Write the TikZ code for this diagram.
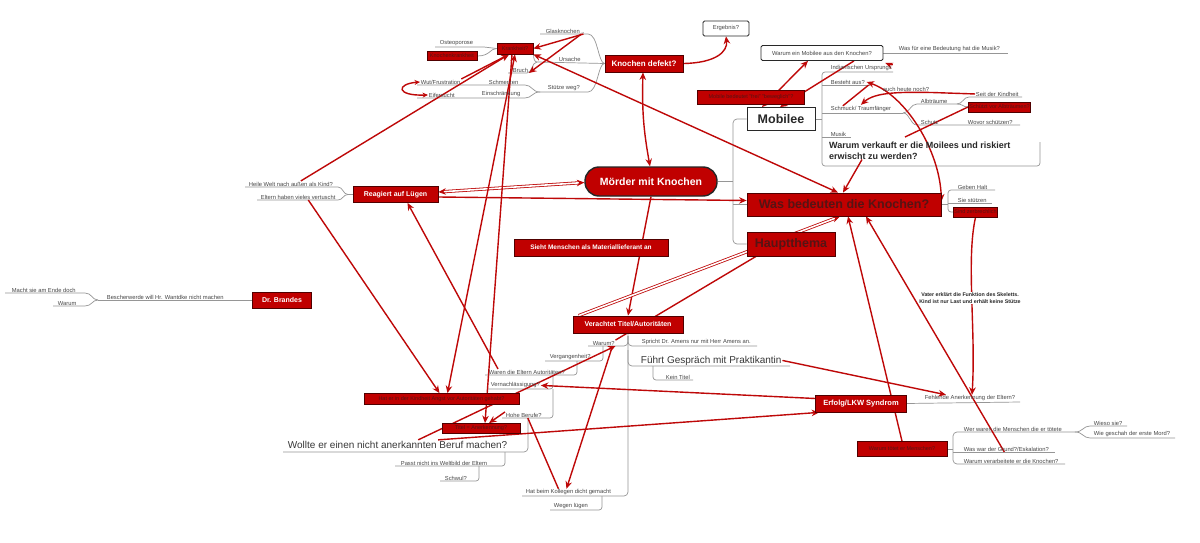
\documentclass[tikz,border=0pt]{standalone}
\usepackage{fontspec}
\setmainfont{Liberation Sans}
\usetikzlibrary{arrows.meta,calc}
\pgfdeclarelayer{background}
\pgfsetlayers{background,main}
\definecolor{rfill}{RGB}{192,0,0}
\definecolor{rdark}{RGB}{80,0,0}
\definecolor{tdark}{RGB}{85,20,20}
\definecolor{rlc}{RGB}{190,8,8}
\definecolor{glc}{RGB}{150,150,150}
\definecolor{ltxt}{RGB}{70,70,70}
\definecolor{bdark}{RGB}{40,40,40}
\tikzset{
  rb/.style={draw=rdark, fill=rfill, line width=0.8pt, inner sep=1pt, align=center},
  rbw/.style={rb, text=white, font=\fontsize{7}{8}\selectfont\bfseries},
  rbd/.style={rb, text=tdark, font=\fontsize{5.5}{6}\selectfont},
  wb/.style={draw=bdark, fill=white, line width=0.8pt, rounded corners=1.5pt, inner sep=1pt, text=ltxt},
  lbl/.style={anchor=south west, inner sep=0.7pt, font=\fontsize{5.8}{6.5}\selectfont, text=ltxt},
  big/.style={anchor=south west, inner sep=0.7pt, font=\fontsize{10}{11}\selectfont, text=ltxt!80!black},
  gline/.style={draw=glc, line width=0.7pt},
  rtip/.tip={Stealth[length=7.5pt,width=6.5pt]},
  rline/.style={draw=rlc, line width=1.4pt, -rtip},
  rboth/.style={draw=rlc, line width=1.4pt, rtip-rtip},
  rplain/.style={draw=rlc, line width=1.4pt},
  rdouble/.style={draw=rlc, line width=0.8pt, double=white, double distance=1.6pt}
}
\begin{document}
\begin{tikzpicture}[x=1pt,y=-1pt]
\useasboundingbox (0,0) rectangle (1200,543);
\begin{pgfonlayer}{background}
\fill[white] (0,0) rectangle (1200,543);
\end{pgfonlayer}

% ---------- main nodes ----------
\node[rbw, minimum width=78pt, minimum height=17pt, font=\fontsize{8}{9}\selectfont\bfseries] (defekt) at (644,63.5) {Knochen defekt?};
\node[wb, minimum width=46pt, minimum height=15pt, font=\fontsize{5.8}{6}\selectfont] (ergebnis) at (726,28.5) {Ergebnis?};
\node[wb, minimum width=122pt, minimum height=15pt, font=\fontsize{5.8}{6}\selectfont] (warummob) at (822,53) {Warum ein Mobilee aus den Knochen?};
\node[rbd, minimum width=107pt, minimum height=14pt] (mobbed) at (751,97) {Mobile bedeutet "frei" "beweglich"?};
\node[wb, rounded corners=0pt, minimum width=68pt, minimum height=23pt, font=\fontsize{12.5}{13}\selectfont\bfseries, text=bdark] (mobilee) at (781,119) {Mobilee};
\node[rb, minimum width=194pt, minimum height=23pt, text=tdark, font=\fontsize{12.5}{13}\selectfont\bfseries] (wasbed) at (844,204.5) {Was bedeuten die Knochen?};
\node[rb, minimum width=88pt, minimum height=24pt, text=tdark, font=\fontsize{12.5}{13}\selectfont\bfseries] (haupt) at (791,244) {Hauptthema};
\node[rbw, rounded corners=14pt, minimum width=132pt, minimum height=29pt, line width=1.4pt, draw=black!85, font=\fontsize{10.5}{11}\selectfont\bfseries] (moerder) at (651,181.5) {Mörder mit Knochen};
\node[rbw, minimum width=85pt, minimum height=16pt] (reagiert) at (395.5,194.5) {Reagiert auf Lügen};
\node[rbw, minimum width=59pt, minimum height=16pt] (brandes) at (282,300) {Dr. Brandes};
\node[rbw, minimum width=154pt, minimum height=17pt, font=\fontsize{6.5}{7}\selectfont\bfseries] (sieht) at (591,247.5) {Sieht Menschen als Materiallieferant an};
\node[rbw, minimum width=110pt, minimum height=17pt] (verachtet) at (628,324.5) {Verachtet Titel/Autoritäten};
\node[rbw, minimum width=91pt, minimum height=17pt, font=\fontsize{7.5}{8}\selectfont\bfseries] (erfolg) at (861,403.5) {Erfolg/LKW Syndrom};
\node[rbd, minimum width=90pt, minimum height=15pt] (toetet) at (902,449) {Warum tötet er Menschen?};
\node[rbd, minimum width=36pt, minimum height=11pt] (krank) at (515,48.5) {Krankheit?};
\node[rbd, minimum width=50pt, minimum height=9pt] (knochkr) at (452,56) {Knochenkrankheit};
\node[rbd, minimum height=10pt, anchor=west] (schuetzt) at (968,107) {Schützt vor Albträumen?};
\node[rbd, minimum height=10pt, anchor=west] (zerbr) at (953,212) {Sind zerbrechlich};
\node[rbd, minimum width=155pt, minimum height=11pt] (rboxa) at (441.5,399) {Hat er in der Kindheit Angst vor Autoritäten gehabt?};
\node[rbd, minimum width=78pt, minimum height=10pt] (rboxb) at (481,428.5) {Titel = Anerkennung?};

% ---------- labels ----------
\node[lbl] (glas) at (545,34) {Glasknochen ..};
\node[lbl] (ursache) at (558,62) {Ursache};
\node[lbl] (stuetze) at (547,92) {Stütze weg?};
\node[lbl] (bruch) at (512,73) {Bruch};
\node[lbl] (osteo) at (439,47) {Osteoporose};
\node[lbl] (schmerz) at (488,85) {Schmerzen};
\node[lbl] (einschr) at (481,98) {Einschränkung};
\node[lbl] (wut) at (420,85) {Wut/Frustration};
\node[lbl] (eifer) at (428,98) {Eifersucht};
\node[lbl] (heile) at (248,187) {Heile Welt nach außen als Kind?};
\node[lbl] (eltern) at (260,200) {Eltern haben vieles vertuscht};
\node[lbl] (beschw) at (106,300) {Bescherwerde will Hr. Wantdke nicht machen};
\node[lbl] (macht) at (11,293) {Macht sie am Ende doch};
\node[lbl] (warumb) at (57,306) {Warum};
\node[lbl] (indian) at (830,72) {Indianischen Ursprungs};
\node[lbl] (besteht) at (830,85) {Besteht aus?};
\node[lbl] (schmuck) at (830,113) {Schmuck/ Traumfänger};
\node[lbl] (musik) at (830,137) {Musik};
\node[anchor=north west, inner sep=0pt, align=left, font=\fontsize{9}{10.5}\selectfont\bfseries, text=bdark] (verkauft) at (829,142) {Warum verkauft er die Moilees und riskiert\\erwischt zu werden?};
\node[lbl] (alb) at (920,104) {Albträume};
\node[lbl] (schutz) at (920,125) {Schutz};
\node[lbl] (wovor) at (967,125) {Wovor schützen?};
\node[lbl] (seit) at (975,97) {Seit der Kindheit};
\node[lbl] (auch) at (882,92) {auch heute noch?};
\node[lbl] (wasfuer) at (898,53) {Was für eine Bedeutung hat die Musik?};
\node[lbl] (geben) at (957,190) {Geben Halt};
\node[lbl] (stuetzen) at (957,203) {Sie stützen};
\node[lbl] (spricht) at (641,346) {Spricht Dr. Amens nur mit Herr Amens an.};
\node[big] (fuehrt) at (640,366) {Führt Gespräch mit Praktikantin};
\node[lbl] (keintitel) at (665,380) {Kein Titel};
\node[lbl] (hatbeim) at (525,496) {Hat beim Kollegen dicht gemacht};
\node[lbl] (wegen) at (553,510) {Wegen lügen};
\node[lbl] (warumv) at (592,346) {Warum?};
\node[lbl] (vergang) at (549,361) {Vergangenheit?};
\node[lbl] (waren) at (488,375) {Waren die Eltern Autoritäten?};
\node[lbl] (vernach) at (490,389) {Vernachlässigung?};
\node[lbl] (hohe) at (505,418) {Hohe Berufe?};
\node[big] (wollte) at (287,449) {Wollte er einen nicht anerkannten Beruf machen?};
\node[lbl] (passt) at (400,466) {Passt nicht ins Weltbild der Eltern};
\node[lbl] (schwul) at (444,481) {Schwul?};
\node[lbl] (fehlende) at (924,402) {Fehlende Anerkennung der Eltern?};
\node[lbl] (werwaren) at (963,432) {Wer waren die Menschen die er tötete};
\node[lbl] (wieso) at (1093,426) {Wieso sie?};
\node[lbl] (wiegesch) at (1093,438) {Wie geschah der erste Mord?};
\node[lbl] (grund) at (963,452) {Was war der Grund?/Eskalation?};
\node[lbl] (verarb) at (963,464) {Warum verarbeitete er die Knochen?};
\coordinate (hid) at (905,137);

\begin{pgfonlayer}{background}
% ---------- grey tree lines ----------
\draw[gline] (moerder.east) -- (733,181.5);
\draw[gline, rounded corners=4] (mobilee.west) -- (733,119) -- (733,244) -- (haupt.west);
\draw[gline] (733,204.5) -- (wasbed.west);
\draw[gline] (mobilee.east) -- (822,119);
\draw[gline, rounded corners=3] (893,72) -- (822,72) -- (822,166) -- (1040,166) -- (1040,142);
\draw[gline] (822,85) -- (870,85);
\draw[gline] (822,113) -- (903,113);
\draw[gline] (822,137) -- (851,137);
\draw[gline] (903,113) .. controls (910,113) and (910,104) .. (917,104) -- (957,104);
\draw[gline] (903,113) .. controls (910,113) and (910,125) .. (917,125) -- (1020,125);
\draw[gline] (957,104) .. controls (963,104) and (963,97) .. (969,97) -- (1022,97);
\draw[gline] (957,104) .. controls (963,104) and (963,107) .. (schuetzt.west);
\draw[gline] (warummob.east) -- (1008,53);
\draw[gline] (wasbed.east) -- (948,204.5);
\draw[gline, rounded corners=3] (995,190) -| (948,212) -- (zerbr.west);
\draw[gline] (948,203) -- (992,203);
% Knochen defekt
\draw[gline] (540,34) -- (588,34) .. controls (598,34) and (598,63) .. (defekt.west);
\draw[gline] (540,92) -- (588,92) .. controls (598,92) and (598,63) .. (defekt.west);
\draw[gline] (537,62) -- (defekt.west);
\draw[gline] (537,62) .. controls (532,62) and (534,49) .. (krank.east);
\draw[gline] (537,62) .. controls (532,62) and (532,73) .. (527,73) -- (508,73);
\draw[gline] (krank.west) .. controls (490,48.5) and (490,47) .. (484,47) -- (435,47);
\draw[gline] (krank.west) .. controls (490,48.5) and (490,56) .. (knochkr.east);
\draw[gline] (540,92) .. controls (532,92) and (532,85) .. (525,85) -- (417,85);
\draw[gline] (540,92) .. controls (532,92) and (532,98) .. (525,98) -- (417,98);
% Reagiert
\draw[gline] (reagiert.west) -- (348,194.5);
\draw[gline] (348,194.5) .. controls (343,194.5) and (343,187) .. (338,187) -- (245,187);
\draw[gline] (348,194.5) .. controls (343,194.5) and (343,200) .. (338,200) -- (257,200);
% Brandes
\draw[gline] (brandes.west) -- (98,300);
\draw[gline] (98,300) .. controls (92,300) and (92,293) .. (85,293) -- (5,293);
\draw[gline] (98,300) .. controls (92,300) and (92,306) .. (85,306) -- (53,306);
% Verachtet
\draw[gline, rounded corners=4] (verachtet.south) -- (628,496) -- (522,496);
\draw[gline, rounded corners=4] (628,336) |- (757,346);
\draw[gline, rounded corners=4] (628,350) |- (790,366);
\draw[gline, rounded corners=3] (653,366) |- (693,380);
\draw[gline, rounded corners=3] (602,496) |- (550,510);
\draw[gline, rounded corners=4] (628,336) |- (588,346);
\draw[gline, rounded corners=3] (603,346) |- (545,361);
\draw[gline, rounded corners=3] (577,361) |- (485,375);
\draw[gline, rounded corners=3] (553,375) |- (487,389);
\draw[gline, rounded corners=3] (553,389) |- (502,418);
\draw[gline, rounded corners=4] (528,418) -- (528,452) -- (283,452);
\draw[gline, rounded corners=3] (505,452) |- (395,466);
\draw[gline, rounded corners=3] (479,466) |- (440,481);
% Erfolg, toetet
\draw[gline] (erfolg.east) -- (1020,402);
\draw[gline] (toetet.east) -- (953,449);
\draw[gline, rounded corners=4] (1075,432) -| (953,464) -- (1065,464);
\draw[gline] (953,452) -- (1055,452);
\draw[gline] (1075,432) .. controls (1083,432) and (1083,426) .. (1090,426) -- (1127,426);
\draw[gline] (1075,432) .. controls (1083,432) and (1083,438) .. (1090,438) -- (1175,438);

% ---------- red connectors ----------
\draw[rdouble, rtip-rtip] ([yshift=-1pt]moerder.west) -- ([yshift=2.5pt]reagiert.east);
\draw[rline] ([yshift=-2.5pt]reagiert.east) -- ([yshift=4pt]wasbed.west);
\draw[rboth] (krank.south east) -- ([xshift=-6pt]wasbed.north);
\draw[rline] ([xshift=-33pt]heile.north east) -- ([xshift=-6pt]krank.south);
\draw[rline] ([xshift=-28pt]eltern.south east) -- ([xshift=-2pt]rboxa.north);
\draw[rboth] (krank.south) -- ([xshift=6pt]rboxa.north);
\draw[rline] ([xshift=-3pt]krank.south) -- ([xshift=4pt]rboxb.north);
\draw[rline] (wut.north east) -- ([xshift=-6pt]krank.south);
\draw[rline] ([xshift=-2pt]glas.south east) -- (krank.east);
\draw[rline] ([xshift=-4pt]glas.south east) -- (bruch.south east);
\draw[rboth] ([xshift=-1pt]moerder.north) to[bend left=6] ([xshift=-1pt]defekt.south);
\draw[rline] (moerder.south) -- (verachtet.north);
\draw[rline] (defekt.east) .. controls (715,63) and (728,52) .. (ergebnis.south);
\draw[rboth] ([xshift=-19pt]mobilee.north) -- ([xshift=-14pt]warummob.south);
\draw[rline] ([xshift=32pt]warummob.south) -- ([xshift=-1pt]mobilee.north);
\draw[rplain] ([xshift=-18pt]schmuck.north) -- ([xshift=3pt]besteht.south east);
\draw[rboth] ([xshift=1pt]besteht.east) .. controls (905,95) and (940,150) .. ([yshift=3pt]wasbed.east);
\draw[rline] (seit.west) -- (932,92.5) .. controls (900,92) and (875,92) .. ([yshift=1pt]schmuck.north);
\draw[rplain] (schuetzt.west) -- (hid);
\draw[rline] ([xshift=33pt]verkauft.south west) -- ([xshift=-1pt]wasbed.north);
\draw[rline] (indian.north east) .. controls (888,64) .. ([xshift=2pt,yshift=-2pt]warummob.south east);
\draw[rdouble, -rtip] ([xshift=6pt]verachtet.north west) -- ([xshift=-4pt]wasbed.south);
\draw[rline] ([xshift=-90pt]wollte.north east) -- (warumv.south east);
\draw[rplain] (warumv.north east) -- ([xshift=-35pt]haupt.south);
\draw[rline] ([xshift=-3pt]warumv.south east) -- ([xshift=-2pt]hatbeim.north);
\draw[rplain] ([xshift=4pt]hohe.south) -- ([xshift=-10pt]hatbeim.north);
\draw[rline] (hohe.north west) -- ([xshift=8pt]rboxb.north);
\draw[rline] ([xshift=10pt]waren.north west) -- ([xshift=12pt]reagiert.south);
\draw[rline] ([yshift=5pt]erfolg.west) -- (vernach.east);
\draw[rline] ([xshift=-70pt]wollte.north east) -- ([xshift=4pt]erfolg.south west);
\draw[rline] (toetet.north) -- ([xshift=4pt]wasbed.south);
\draw[rline] ([xshift=-2pt]grund.south) -- ([xshift=22pt]wasbed.south);
\draw[rline] (fuehrt.east) -- ([xshift=22pt]fehlende.north west);
\draw[rline] (zerbr.south) .. controls (966,260) and (976,330) .. ([xshift=2pt]fehlende.north);
\draw[draw=rlc, line width=1.4pt, {Stealth[length=5.5pt,width=5pt]}-{Stealth[length=5.5pt,width=5pt]}] (wut.west) .. controls (396,84) and (396,96) .. (eifer.west);
\end{pgfonlayer}

\node[fill=white, inner sep=0.6pt, align=center, font=\fontsize{5.3}{6.5}\selectfont\bfseries, text=bdark] (vater) at (970,298) {Vater erklärt die Funktion des Skeletts.\\Kind ist nur Last und erhält keine Stütze};
\end{tikzpicture}
\end{document}
